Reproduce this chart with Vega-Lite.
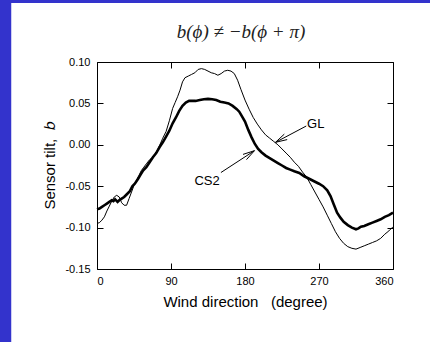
{
  "$schema": "https://vega.github.io/schema/vega-lite/v6.json",
  "width": 296,
  "height": 207,
  "autosize": {"type": "none"},
  "padding": {"left": 97, "top": 62, "right": 37, "bottom": 73},
  "background": "white",
  "config": {
    "view": {"stroke": "black", "strokeWidth": 1},
    "locale": {"number": {"decimal": ".", "thousands": ",", "grouping": [3], "currency": ["$", ""], "minus": "-"}},
    "font": "Liberation Sans"
  },
  "title": {
    "text": "b(ϕ) ≠ −b(ϕ + π)",
    "font": "Liberation Serif",
    "fontStyle": "italic",
    "fontWeight": "normal",
    "fontSize": 19,
    "color": "#222",
    "anchor": "middle",
    "frame": "group",
    "offset": -42,
    "dx": -4
  },
  "datasets": {
    "curves": [
      {"deg": 0, "b": -0.078, "series": "CS2"}, {"deg": 3, "b": -0.077, "series": "CS2"}, {"deg": 6, "b": -0.075, "series": "CS2"},
      {"deg": 9, "b": -0.073, "series": "CS2"}, {"deg": 12, "b": -0.071, "series": "CS2"}, {"deg": 15, "b": -0.069, "series": "CS2"},
      {"deg": 18, "b": -0.067, "series": "CS2"}, {"deg": 20, "b": -0.068, "series": "CS2"}, {"deg": 22, "b": -0.066, "series": "CS2"},
      {"deg": 25, "b": -0.069, "series": "CS2"}, {"deg": 27, "b": -0.067, "series": "CS2"}, {"deg": 30, "b": -0.065, "series": "CS2"},
      {"deg": 33, "b": -0.063, "series": "CS2"}, {"deg": 36, "b": -0.060, "series": "CS2"}, {"deg": 40, "b": -0.056, "series": "CS2"},
      {"deg": 43, "b": -0.050, "series": "CS2"}, {"deg": 46, "b": -0.047, "series": "CS2"}, {"deg": 50, "b": -0.041, "series": "CS2"},
      {"deg": 53, "b": -0.036, "series": "CS2"}, {"deg": 56, "b": -0.031, "series": "CS2"}, {"deg": 60, "b": -0.027, "series": "CS2"},
      {"deg": 64, "b": -0.021, "series": "CS2"}, {"deg": 68, "b": -0.015, "series": "CS2"}, {"deg": 72, "b": -0.010, "series": "CS2"},
      {"deg": 76, "b": -0.003, "series": "CS2"}, {"deg": 80, "b": 0.003, "series": "CS2"}, {"deg": 84, "b": 0.010, "series": "CS2"},
      {"deg": 88, "b": 0.017, "series": "CS2"}, {"deg": 92, "b": 0.026, "series": "CS2"}, {"deg": 96, "b": 0.033, "series": "CS2"},
      {"deg": 100, "b": 0.041, "series": "CS2"}, {"deg": 104, "b": 0.047, "series": "CS2"}, {"deg": 108, "b": 0.051, "series": "CS2"},
      {"deg": 112, "b": 0.053, "series": "CS2"}, {"deg": 116, "b": 0.053, "series": "CS2"}, {"deg": 120, "b": 0.053, "series": "CS2"},
      {"deg": 125, "b": 0.054, "series": "CS2"}, {"deg": 130, "b": 0.055, "series": "CS2"}, {"deg": 135, "b": 0.0555, "series": "CS2"},
      {"deg": 140, "b": 0.055, "series": "CS2"}, {"deg": 145, "b": 0.054, "series": "CS2"}, {"deg": 150, "b": 0.052, "series": "CS2"},
      {"deg": 155, "b": 0.051, "series": "CS2"}, {"deg": 160, "b": 0.050, "series": "CS2"}, {"deg": 165, "b": 0.047, "series": "CS2"},
      {"deg": 170, "b": 0.043, "series": "CS2"}, {"deg": 173, "b": 0.040, "series": "CS2"}, {"deg": 176, "b": 0.035, "series": "CS2"},
      {"deg": 180, "b": 0.028, "series": "CS2"}, {"deg": 184, "b": 0.018, "series": "CS2"}, {"deg": 188, "b": 0.009, "series": "CS2"},
      {"deg": 192, "b": 0.001, "series": "CS2"}, {"deg": 196, "b": -0.005, "series": "CS2"}, {"deg": 200, "b": -0.009, "series": "CS2"},
      {"deg": 205, "b": -0.013, "series": "CS2"}, {"deg": 210, "b": -0.016, "series": "CS2"}, {"deg": 215, "b": -0.019, "series": "CS2"},
      {"deg": 220, "b": -0.022, "series": "CS2"}, {"deg": 225, "b": -0.025, "series": "CS2"}, {"deg": 230, "b": -0.028, "series": "CS2"},
      {"deg": 235, "b": -0.030, "series": "CS2"}, {"deg": 240, "b": -0.032, "series": "CS2"}, {"deg": 246, "b": -0.034, "series": "CS2"},
      {"deg": 252, "b": -0.038, "series": "CS2"}, {"deg": 258, "b": -0.041, "series": "CS2"}, {"deg": 264, "b": -0.044, "series": "CS2"},
      {"deg": 270, "b": -0.047, "series": "CS2"}, {"deg": 275, "b": -0.050, "series": "CS2"}, {"deg": 280, "b": -0.055, "series": "CS2"},
      {"deg": 284, "b": -0.062, "series": "CS2"}, {"deg": 288, "b": -0.072, "series": "CS2"}, {"deg": 292, "b": -0.082, "series": "CS2"},
      {"deg": 296, "b": -0.088, "series": "CS2"}, {"deg": 300, "b": -0.093, "series": "CS2"}, {"deg": 305, "b": -0.097, "series": "CS2"},
      {"deg": 310, "b": -0.100, "series": "CS2"}, {"deg": 315, "b": -0.102, "series": "CS2"}, {"deg": 318, "b": -0.101, "series": "CS2"},
      {"deg": 321, "b": -0.099, "series": "CS2"}, {"deg": 325, "b": -0.098, "series": "CS2"}, {"deg": 330, "b": -0.096, "series": "CS2"},
      {"deg": 335, "b": -0.094, "series": "CS2"}, {"deg": 340, "b": -0.092, "series": "CS2"}, {"deg": 345, "b": -0.090, "series": "CS2"},
      {"deg": 350, "b": -0.087, "series": "CS2"}, {"deg": 355, "b": -0.085, "series": "CS2"}, {"deg": 360, "b": -0.082, "series": "CS2"},

      {"deg": 0, "b": -0.095, "series": "GL"}, {"deg": 3, "b": -0.094, "series": "GL"}, {"deg": 6, "b": -0.091, "series": "GL"},
      {"deg": 9, "b": -0.087, "series": "GL"}, {"deg": 12, "b": -0.080, "series": "GL"}, {"deg": 15, "b": -0.074, "series": "GL"},
      {"deg": 18, "b": -0.068, "series": "GL"}, {"deg": 21, "b": -0.063, "series": "GL"}, {"deg": 24, "b": -0.061, "series": "GL"},
      {"deg": 27, "b": -0.063, "series": "GL"}, {"deg": 30, "b": -0.070, "series": "GL"}, {"deg": 33, "b": -0.073, "series": "GL"},
      {"deg": 36, "b": -0.073, "series": "GL"}, {"deg": 39, "b": -0.065, "series": "GL"}, {"deg": 42, "b": -0.057, "series": "GL"},
      {"deg": 45, "b": -0.049, "series": "GL"}, {"deg": 48, "b": -0.043, "series": "GL"}, {"deg": 51, "b": -0.037, "series": "GL"},
      {"deg": 54, "b": -0.031, "series": "GL"}, {"deg": 57, "b": -0.027, "series": "GL"}, {"deg": 60, "b": -0.023, "series": "GL"},
      {"deg": 64, "b": -0.018, "series": "GL"}, {"deg": 68, "b": -0.015, "series": "GL"}, {"deg": 72, "b": -0.010, "series": "GL"},
      {"deg": 76, "b": -0.001, "series": "GL"}, {"deg": 80, "b": 0.008, "series": "GL"}, {"deg": 84, "b": 0.016, "series": "GL"},
      {"deg": 88, "b": 0.029, "series": "GL"}, {"deg": 92, "b": 0.044, "series": "GL"}, {"deg": 95, "b": 0.051, "series": "GL"},
      {"deg": 98, "b": 0.058, "series": "GL"}, {"deg": 101, "b": 0.066, "series": "GL"}, {"deg": 104, "b": 0.076, "series": "GL"},
      {"deg": 107, "b": 0.081, "series": "GL"}, {"deg": 111, "b": 0.083, "series": "GL"}, {"deg": 115, "b": 0.085, "series": "GL"},
      {"deg": 119, "b": 0.087, "series": "GL"}, {"deg": 123, "b": 0.091, "series": "GL"}, {"deg": 127, "b": 0.092, "series": "GL"},
      {"deg": 131, "b": 0.091, "series": "GL"}, {"deg": 135, "b": 0.089, "series": "GL"}, {"deg": 139, "b": 0.087, "series": "GL"},
      {"deg": 143, "b": 0.086, "series": "GL"}, {"deg": 147, "b": 0.084, "series": "GL"}, {"deg": 151, "b": 0.086, "series": "GL"},
      {"deg": 155, "b": 0.089, "series": "GL"}, {"deg": 159, "b": 0.090, "series": "GL"}, {"deg": 163, "b": 0.089, "series": "GL"},
      {"deg": 167, "b": 0.086, "series": "GL"}, {"deg": 171, "b": 0.078, "series": "GL"}, {"deg": 175, "b": 0.067, "series": "GL"},
      {"deg": 180, "b": 0.054, "series": "GL"}, {"deg": 185, "b": 0.043, "series": "GL"}, {"deg": 190, "b": 0.033, "series": "GL"},
      {"deg": 195, "b": 0.025, "series": "GL"}, {"deg": 200, "b": 0.018, "series": "GL"}, {"deg": 205, "b": 0.012, "series": "GL"},
      {"deg": 210, "b": 0.008, "series": "GL"}, {"deg": 215, "b": 0.004, "series": "GL"}, {"deg": 220, "b": 0.000, "series": "GL"},
      {"deg": 225, "b": -0.005, "series": "GL"}, {"deg": 230, "b": -0.010, "series": "GL"}, {"deg": 235, "b": -0.015, "series": "GL"},
      {"deg": 240, "b": -0.021, "series": "GL"}, {"deg": 245, "b": -0.026, "series": "GL"}, {"deg": 250, "b": -0.033, "series": "GL"},
      {"deg": 255, "b": -0.039, "series": "GL"}, {"deg": 260, "b": -0.048, "series": "GL"}, {"deg": 265, "b": -0.057, "series": "GL"},
      {"deg": 270, "b": -0.066, "series": "GL"}, {"deg": 275, "b": -0.075, "series": "GL"}, {"deg": 280, "b": -0.085, "series": "GL"},
      {"deg": 285, "b": -0.095, "series": "GL"}, {"deg": 290, "b": -0.105, "series": "GL"}, {"deg": 295, "b": -0.113, "series": "GL"},
      {"deg": 300, "b": -0.119, "series": "GL"}, {"deg": 305, "b": -0.123, "series": "GL"}, {"deg": 310, "b": -0.125, "series": "GL"},
      {"deg": 315, "b": -0.126, "series": "GL"}, {"deg": 320, "b": -0.124, "series": "GL"}, {"deg": 325, "b": -0.122, "series": "GL"},
      {"deg": 330, "b": -0.120, "series": "GL"}, {"deg": 335, "b": -0.118, "series": "GL"}, {"deg": 340, "b": -0.116, "series": "GL"},
      {"deg": 345, "b": -0.113, "series": "GL"}, {"deg": 350, "b": -0.108, "series": "GL"}, {"deg": 355, "b": -0.104, "series": "GL"},
      {"deg": 360, "b": -0.099, "series": "GL"}
    ],
    "arrows": [
      {"x1": 254.5, "y1": 0.0227, "x2": 217.1, "y2": 0.0030},
      {"x1": 231.3, "y1": 0.0063, "x2": 217.1, "y2": 0.0030},
      {"x1": 227.8, "y1": 0.0129, "x2": 217.1, "y2": 0.0030},
      {"x1": 150.7, "y1": -0.0335, "x2": 191.5, "y2": -0.0071},
      {"x1": 177.6, "y1": -0.0116, "x2": 191.5, "y2": -0.0071},
      {"x1": 181.8, "y1": -0.0179, "x2": 191.5, "y2": -0.0071}
    ],
    "labels": [
      {"x": 255.5, "y": 0.020, "label": "GL"},
      {"x": 118.5, "y": -0.0486, "label": "CS2"}
    ],
    "frame": [{"part": "border"}]
  },
  "resolve": {"axis": {"x": "independent", "y": "independent"}},
  "layer": [
    {
      "data": {"name": "frame"},
      "mark": {"type": "rect", "color": "#3333cc", "clip": false},
      "encoding": {
        "x": {"datum": -130, "type": "quantitative", "scale": {"domain": [0, 360], "nice": false, "zero": false}, "axis": null},
        "x2": {"datum": -104.3},
        "y": {"datum": -0.26, "type": "quantitative", "scale": {"domain": [-0.15, 0.10], "nice": false, "zero": false}, "axis": null},
        "y2": {"datum": 0.1749}
      }
    },
    {
      "data": {"name": "frame"},
      "mark": {"type": "rect", "color": "#3333cc", "clip": false},
      "encoding": {
        "x": {"datum": -130, "type": "quantitative", "axis": null},
        "x2": {"datum": 420},
        "y": {"datum": 0.1713, "type": "quantitative", "axis": null},
        "y2": {"datum": 0.1749}
      }
    },
    {
      "data": {"name": "curves"},
      "transform": [{"filter": "datum.series === 'GL'"}],
      "mark": {"type": "line", "color": "black", "strokeWidth": 1},
      "encoding": {
        "x": {"field": "deg", "type": "quantitative",
              "axis": {"orient": "top", "values": [0, 90, 180, 270, 360], "labels": false, "title": null, "domain": false, "grid": false, "tickSize": -6, "tickColor": "black"}},
        "y": {"field": "b", "type": "quantitative",
              "axis": {"orient": "right", "values": [-0.15, -0.10, -0.05, 0, 0.05, 0.10], "labels": false, "title": null, "domain": false, "grid": false, "tickSize": -6, "tickColor": "black"}}
      }
    },
    {
      "data": {"name": "curves"},
      "transform": [{"filter": "datum.series === 'CS2'"}],
      "mark": {"type": "line", "color": "black", "strokeWidth": 2.6},
      "encoding": {
        "x": {"field": "deg", "type": "quantitative",
              "axis": {"orient": "bottom", "values": [0, 90, 180, 270, 360], "format": "d", "title": "Wind direction\u00a0\u00a0\u00a0(degree)",
                       "domain": false, "grid": false, "tickSize": -6, "tickColor": "black", "labelPadding": 12,
                       "labelFontSize": 11, "labelColor": "black", "labelFont": "Liberation Sans",
                       "titleFontSize": 15, "titleFontWeight": "normal", "titleColor": "black", "titleFont": "Liberation Sans", "titlePadding": 8}},
        "y": {"field": "b", "type": "quantitative",
              "axis": {"orient": "left", "values": [-0.15, -0.10, -0.05, 0, 0.05, 0.10], "format": ".2f", "title": "Sensor tilt,\u00a0\u00a0𝑏",
                       "domain": false, "grid": false, "tickSize": -6, "tickColor": "black", "labelPadding": 13,
                       "labelFontSize": 11, "labelColor": "black", "labelFont": "Liberation Sans",
                       "titleFontSize": 15, "titleFontWeight": "normal", "titleColor": "black", "titleFont": "Liberation Sans", "titlePadding": 7}}
      }
    },
    {
      "data": {"name": "arrows"},
      "mark": {"type": "rule", "color": "black", "strokeWidth": 1},
      "encoding": {
        "x": {"field": "x1", "type": "quantitative", "axis": null},
        "y": {"field": "y1", "type": "quantitative", "axis": null},
        "x2": {"field": "x2"},
        "y2": {"field": "y2"}
      }
    },
    {
      "data": {"name": "labels"},
      "mark": {"type": "text", "align": "left", "baseline": "alphabetic", "fontSize": 13, "font": "Liberation Sans", "color": "black"},
      "encoding": {
        "x": {"field": "x", "type": "quantitative", "axis": null},
        "y": {"field": "y", "type": "quantitative", "axis": null},
        "text": {"field": "label"}
      }
    }
  ]
}
